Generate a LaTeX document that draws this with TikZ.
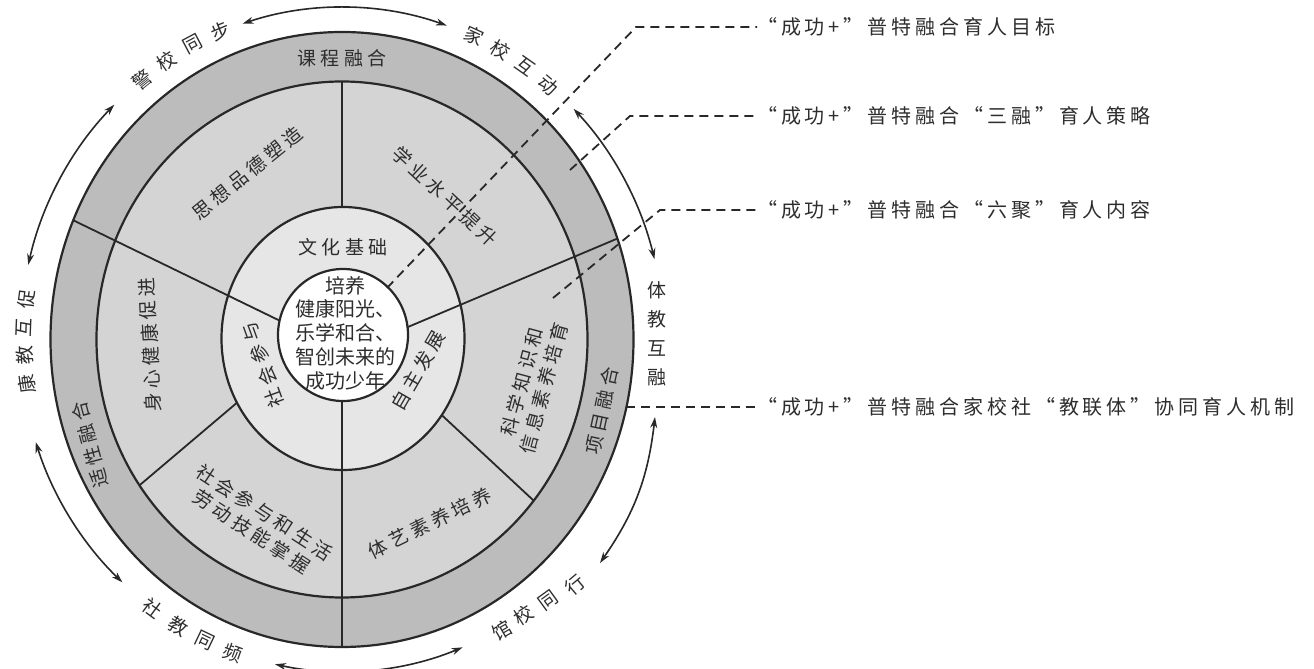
\documentclass[tikz,border=0pt]{standalone}
\usepackage{fontspec}
\newfontfamily\cjk{Noto Sans CJK SC}
\newfontfamily\cjks{Noto Sans CJK SC}[LetterSpace=22]
\newfontfamily\cjkr{Noto Sans CJK SC}[LetterSpace=19.5]
\usetikzlibrary{arrows.meta}
\definecolor{ringA}{RGB}{188,188,188}
\definecolor{ringB}{RGB}{212,212,212}
\definecolor{ringC}{RGB}{230,230,230}
\definecolor{ink}{RGB}{40,40,40}
\definecolor{txt}{RGB}{45,45,45}
\begin{document}
\begin{tikzpicture}[x=1pt,y=1pt,
  edge/.style={draw=ink, line width=2.2pt},
  div/.style={draw=ink, line width=1.8pt},
  lead/.style={draw=ink, line width=1.8pt, dash pattern=on 9pt off 6pt},
  arr/.style={draw=ink, line width=1.6pt, {Stealth[length=11pt,width=7pt]}-{Stealth[length=11pt,width=7pt]}},
  lab/.style={inner sep=0pt, text=txt, font=\cjks\fontsize{19}{23}\selectfont},
  olab/.style={inner sep=0pt, text=txt, font=\cjk\fontsize{19}{23}\selectfont},
  ctext/.style={inner sep=0pt, text=txt, align=center, font=\cjk\fontsize{20}{23.8}\selectfont},
  rlab/.style={inner sep=0pt, text=txt, anchor=west, font=\cjkr\fontsize{20}{24}\selectfont},
]
\useasboundingbox (0,0) rectangle (1314,669);
\coordinate (C) at (342,329.5);
\coordinate (Cw) at (343,330.5);
\coordinate (Cc) at (343,334);

% outer ring
\fill[ringA] (C) ellipse [x radius=291.5, y radius=307.5];
\begin{scope}
\clip (C) ellipse [x radius=291.5, y radius=307.5];
\draw[div] (340,319) -- (11,479);
\draw[div] (344,315) -- (685,459);
\draw[div] (342,334) -- (342,0);
\end{scope}
\draw[edge] (C) ellipse [x radius=291.5, y radius=307.5];

% middle ring
\fill[ringB] (C) ellipse [x radius=245.5, y radius=258];
\begin{scope}
\clip (C) ellipse [x radius=245.5, y radius=258];
\draw[div] (340,319) -- (11,479);
\draw[div] (344,315) -- (685,459);
\draw[div] (342,334) -- (342,0);
\draw[div] (342,330) -- (342,669);
\draw[div] (252,279) -- (108,157);
\draw[div] (418,276) -- (562,142);
\end{scope}
\draw[edge] (C) ellipse [x radius=245.5, y radius=258];

% culture ring
\fill[ringC] (Cw) ellipse [x radius=121.5, y radius=131.5];
\begin{scope}
\clip (Cw) ellipse [x radius=121.5, y radius=131.5];
\draw[div] (340,319) -- (11,479);
\draw[div] (344,315) -- (685,459);
\draw[div] (342,334) -- (342,0);
\end{scope}
\draw[edge] (Cw) ellipse [x radius=121.5, y radius=131.5];

% core
\fill[white] (Cc) ellipse [x radius=65, y radius=66];
\draw[edge] (Cc) ellipse [x radius=65, y radius=66];
\node[ctext] (core) at (345,336) {培养\\健康阳光、\\乐学和合、\\智创未来的\\成功少年};

% ring labels
\node[lab] (kc) at (342,611) {课程融合};
\node[lab, rotate=78] (xm) at (602,258) {项目融合};
\node[lab, rotate=105] (sx) at (90,224) {适性融合};
\node[lab, rotate=39] (sx1) at (247,496) {思想品德塑造};
\node[lab, rotate=-43] (xy) at (445,473) {学业水平提升};
\node[lab, rotate=93] (sxj) at (150,324) {身心健康促进};
\node[lab, rotate=75, align=center] (kx) at (533,284) {科学知识和\\信息素养培育};
\node[lab, rotate=26] (ty) at (430,146) {体艺素养培养};
\node[lab, rotate=-33, align=center] (sh) at (258,147) {社会参与和生活\\劳动技能掌握};
\node[lab] (wh) at (343,422) {文化基础};
\node[lab, rotate=110] (shcy) at (263,304) {社会参与};
\node[lab, rotate=60] (zz) at (418,298) {自主发展};

% outer labels, along the ring
\foreach \ch/\t [count=\i] in {警/129,校/123.5,同/118,步/112.5}
  \node[olab, rotate=\t-90] (ja\i) at ([shift={(C)}]\t:318 and 334) {\ch};
\foreach \ch/\t [count=\i] in {家/65.5,校/60.2,互/54.9,动/49.6}
  \node[olab, rotate=\t-90] (jb\i) at ([shift={(C)}]\t:318 and 334) {\ch};
\foreach \ch/\x/\y/\r [count=\i] in {馆/502/39/30,校/524/54/33,同/548/69/36,行/575/84/40}
  \node[olab, rotate=\r] (gc\i) at (\x,\y) {\ch};
\foreach \ch/\t [count=\i] in {社/233.5,教/239,同/244.5,频/250}
  \node[olab, rotate=\t+90] (sj\i) at ([shift={(C)}]\t:318 and 334) {\ch};
\foreach \ch/\t [count=\i] in {康/187.7,教/182.8,互/177.9,促/173}
  \node[olab, rotate=\t-90] (kj\i) at ([shift={(C)}]\t:318 and 334) {\ch};
\node[olab, align=center, font=\cjk\fontsize{19}{29}\selectfont] (tj) at (657,335.5) {体\\教\\互\\融};

% arrows
\coordinate (a5s) at (600,106);
\coordinate (a5e) at (655,252);
\draw[arr] ([shift={(C)}]71:322 and 332) arc[start angle=71, end angle=108, x radius=322, y radius=332];
\draw[arr] ([shift={(C)}]135:322 and 332) arc[start angle=135, end angle=167, x radius=322, y radius=332];
\draw[arr] ([shift={(C)}]198:322 and 332) arc[start angle=198, end angle=227, x radius=322, y radius=332];
\draw[arr] ([shift={(C)}]258:322 and 332) arc[start angle=258, end angle=292, x radius=322, y radius=332];
\draw[arr] (a5s) to[bend right=14] (a5e);
\draw[arr] ([shift={(C)}]14:322 and 332) arc[start angle=14, end angle=44, x radius=322, y radius=332];

% right labels
\node[rlab] (r1) at (757,642) {“成功+”普特融合育人目标};
\node[rlab] (r2) at (757,553) {“成功+”普特融合“三融”育人策略};
\node[rlab] (r3) at (757,459) {“成功+”普特融合“六聚”育人内容};
\node[rlab] (r4) at (757,262) {“成功+”普特融合家校社“教联体”协同育人机制};

\coordinate (s1) at (387,381);
\coordinate (s2) at (570,499);
\coordinate (s3) at (553,371);
\draw[lead] (s1) -- ([xshift=-121pt]r1.west) -- (r1.west);
\draw[lead] (s2) -- ([xshift=-127pt]r2.west) -- (r2.west);
\draw[lead] (s3) -- ([xshift=-97pt]r3.west) -- (r3.west);
\draw[lead] ([xshift=-131pt]r4.west) -- (r4.west);
\end{tikzpicture}
\end{document}
